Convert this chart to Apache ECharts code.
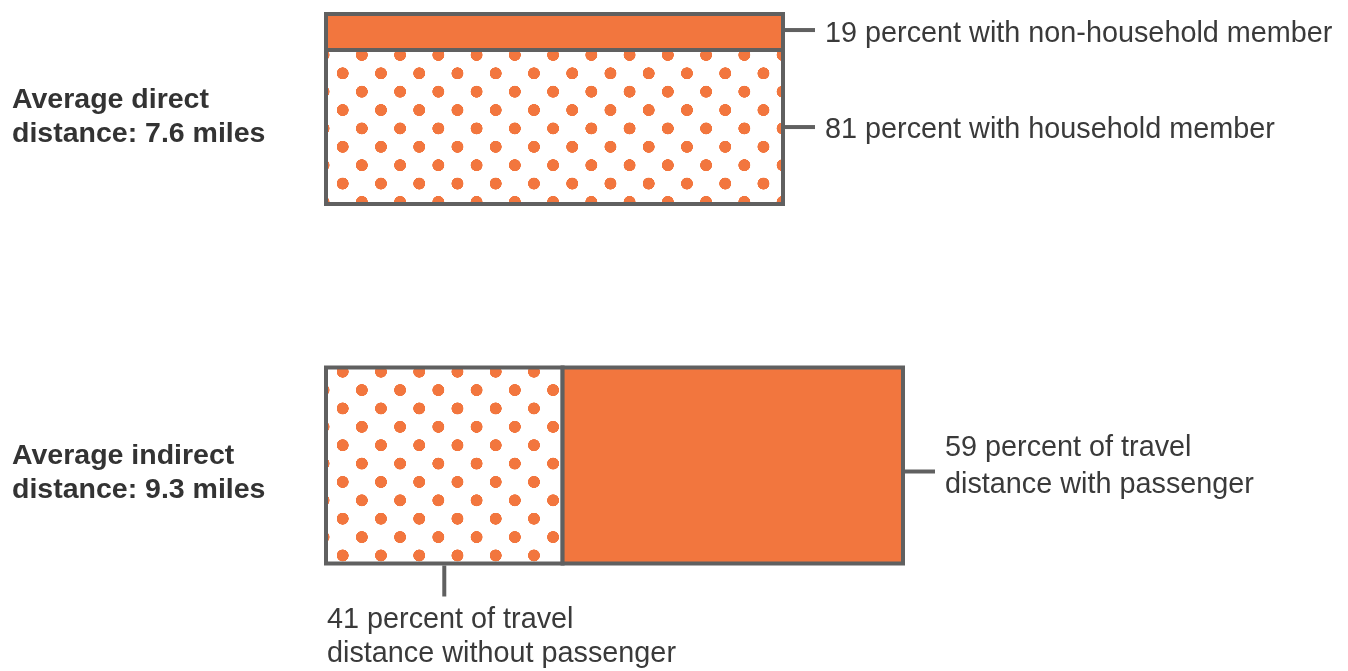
<!DOCTYPE html>
<html>
<head>
<meta charset="utf-8">
<script src="https://cdn.jsdelivr.net/npm/echarts@6/dist/echarts.min.js"></script>
<style>
html, body { margin: 0; padding: 0; background: #fff; }
#con { width: 1348px; height: 671px; }
</style>
</head>
<body>
<div id="con"></div>
<script>
// data
var rowLabels = ['Average direct\ndistance: 7.6 miles', 'Average indirect\ndistance: 9.3 miles'];
var avgMiles = [7.6, 9.3];
var directShare = [81, 19];      // household member, non-household member
var directLabels = ['81 percent with household member', '19 percent with non-household member'];
var indirectShare = [41, 59];    // without passenger, with passenger
var indirectLabels = ['41 percent of travel\ndistance without passenger', '59 percent of travel\ndistance with passenger'];

var orange = '#f2763e';
var edge = '#606060';
var ink = '#3a3a3a';
var fontFamily = '"Liberation Sans", Arial, Helvetica, sans-serif';

// polka dot tile, drawn at 4x and scaled down by the pattern
var tile = (function () {
    var c = document.createElement('canvas');
    c.width = 153; c.height = 147;
    var ctx = c.getContext('2d');
    ctx.fillStyle = '#fff';
    ctx.fillRect(0, 0, c.width, c.height);
    ctx.fillStyle = orange;
    [[0, 0], [153, 0], [0, 147], [153, 147], [76.5, 73.5]].forEach(function (p) {
        ctx.beginPath();
        ctx.arc(p[0], p[1], 24, 0, Math.PI * 2);
        ctx.fill();
    });
    return c;
})();

// segments: [x from, x to (miles), y from, y to (percent)]
var directData = [
    [0, avgMiles[0], 0, directShare[0]],
    [0, avgMiles[0], directShare[0], 100]
];
var splitMiles = avgMiles[1] * indirectShare[0] / 100;
var indirectData = [
    [0, splitMiles, 0, 100],
    [splitMiles, avgMiles[1], 0, 100]
];

var looks = [
    { fill: ['dots', 'solid'], side: ['right', 'right'], leaderDy: [0, -2], textDy: [3, 2], dotOrigin: [16.7, 59.3] },
    { fill: ['dots', 'solid'], side: ['bottom', 'right'], leaderDy: [0, 6], textDy: [0, 1], dotOrigin: [16.7, 4.2] }
];
var labelSets = [directLabels, indirectLabels];

function makeRender(k) {
    return function (params, api) {
        var cfg = looks[k];
        var i = params.dataIndex;
        var tl = api.coord([api.value(0), api.value(3)]);
        var br = api.coord([api.value(1), api.value(2)]);
        var origin = api.coord([0, 100]);
        var fill = cfg.fill[i] === 'dots' ? {
            image: tile, repeat: 'repeat',
            x: origin[0] + cfg.dotOrigin[0], y: origin[1] + cfg.dotOrigin[1],
            scaleX: 0.25, scaleY: 0.25
        } : orange;
        var kids = [{
            type: 'rect',
            shape: { x: tl[0], y: tl[1], width: br[0] - tl[0], height: br[1] - tl[1] },
            style: { fill: fill, stroke: edge, lineWidth: 4 }
        }];
        var lineStyle = { stroke: edge, lineWidth: 4 };
        var textFont = '28.8px ' + fontFamily;
        if (cfg.side[i] === 'right') {
            var mid = (tl[1] + br[1]) / 2;
            var ly = mid + cfg.leaderDy[i];
            var lx = br[0] + 2;
            kids.push({ type: 'line', shape: { x1: lx, y1: ly, x2: lx + 30, y2: ly }, style: lineStyle });
            kids.push({ type: 'text', style: {
                text: labelSets[k][i], x: lx + 40, y: mid + cfg.textDy[i],
                font: textFont, fill: ink, align: 'left', verticalAlign: 'middle', lineHeight: 37
            } });
        } else {
            var cx = (tl[0] + br[0]) / 2;
            var by = br[1] + 2;
            kids.push({ type: 'line', shape: { x1: cx, y1: by, x2: cx, y2: by + 31 }, style: lineStyle });
            kids.push({ type: 'text', style: {
                text: labelSets[k][i], x: tl[0] + 1, y: by + 38,
                font: textFont, fill: ink, align: 'left', verticalAlign: 'top', lineHeight: 34
            } });
        }
        if (i === 0) {
            kids.push({ type: 'text', style: {
                text: rowLabels[k], x: 12, y: api.coord([0, 50])[1] + 8,
                font: 'bold 28.5px ' + fontFamily, fill: '#333', align: 'left', verticalAlign: 'middle', lineHeight: 34
            } });
        }
        return { type: 'group', children: kids };
    };
}

var myChart = echarts.init(document.getElementById('con'));
var option = {
    animation: false,
    grid: [
        { left: 326, top: 14, width: 457, height: 190 },
        { left: 326, top: 367.5, width: 577, height: 196 }
    ],
    xAxis: [
        { type: 'value', gridIndex: 0, min: 0, max: avgMiles[0], show: false },
        { type: 'value', gridIndex: 1, min: 0, max: avgMiles[1], show: false }
    ],
    yAxis: [
        { type: 'value', gridIndex: 0, min: 0, max: 100, show: false },
        { type: 'value', gridIndex: 1, min: 0, max: 100, show: false }
    ],
    series: [
        { type: 'custom', xAxisIndex: 0, yAxisIndex: 0, renderItem: makeRender(0), data: directData, silent: true },
        { type: 'custom', xAxisIndex: 1, yAxisIndex: 1, renderItem: makeRender(1), data: indirectData, silent: true }
    ]
};
myChart.setOption(option);
</script>
</body>
</html>
